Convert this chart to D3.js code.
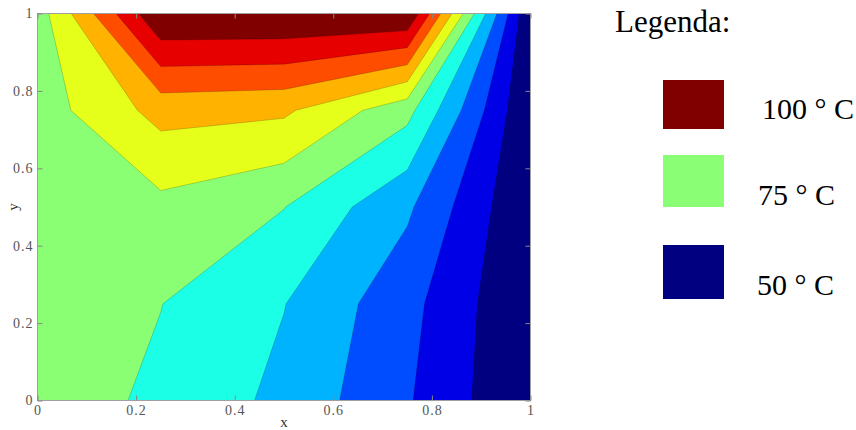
<!DOCTYPE html>
<html>
<head>
<meta charset="utf-8">
<script src="https://cdn.jsdelivr.net/npm/d3@7"></script>
<style>
  body { margin: 0; background: #fff; }
  text { font-family: "Liberation Serif", "Times New Roman", serif; }
</style>
</head>
<body>
<div id="chart"></div>
<script>
// nodal temperatures, one row per y node (top row y = 1)
const xNodes = [0, 0.25, 0.5, 0.75, 1];
const yNodes = [1, 0.75, 0.5, 0.25, 0];
const rowY100 = [75, 100, 100, 100, 50];
const rowY075 = [75, 83.41, 82.63, 74.26, 50];
const rowY050 = [75, 76.01, 72.84, 64.42, 50];
const rowY025 = [75, 72.81, 68.31, 60.57, 50];
const rowY000 = [75, 71.91, 67.01, 59.54, 50];

// contour levels (lower edge of each filled band) and jet colours
const levels = [50, 54.55, 59.09, 63.64, 68.18, 72.73, 77.27, 81.82, 86.36, 90.91, 95.45];
const bandColors = ["#000080", "#0000e6", "#004dff", "#00b3ff", "#1affe6", "#8aff74",
                    "#e6ff1a", "#ffb300", "#ff4d00", "#e60000", "#800000"];

const xTicks = [0, 0.2, 0.4, 0.6, 0.8, 1];
const yTicks = [0, 0.2, 0.4, 0.6, 0.8, 1];

const legendTitle = "Legenda:";
const legendLabels = ["100 ° C", "75 ° C", "50 ° C"];
const legendColors = ["#800000", "#8aff75", "#000080"];

// layout
const W = 856, H = 430;
const plot = {left: 37.5, right: 530.5, top: 13.5, bottom: 400.5};
const legendBoxY = [80, 155, 245], legendBoxH = [49, 52, 54];
const legendTextY = [119, 205, 295], legendTextX = [762, 758, 757];

const svg = d3.select("#chart").append("svg")
    .attr("width", W)
    .attr("height", H);

const x = d3.scaleLinear().domain([0, 1]).range([plot.left, plot.right]);
const y = d3.scaleLinear().domain([0, 1]).range([plot.bottom, plot.top]);

// d3.contours puts sample i at i + 0.5, so map that back onto the nodes
const nx = xNodes.length, ny = yNodes.length;
const gx = d3.scaleLinear().domain([0.5, nx - 0.5]).range([x(xNodes[0]), x(xNodes[nx - 1])]);
const gy = d3.scaleLinear().domain([0.5, ny - 0.5]).range([y(yNodes[0]), y(yNodes[ny - 1])]);

const values = [].concat(rowY100, rowY075, rowY050, rowY025, rowY000);

const contours = d3.contours()
    .size([nx, ny])
    .thresholds(levels)
    (values);

const path = d3.geoPath(d3.geoTransform({
    point: function(px, py) { this.stream.point(gx(px), gy(py)); }
}));

svg.append("clipPath")
    .attr("id", "plotclip")
    .append("rect")
    .attr("x", plot.left)
    .attr("y", plot.top)
    .attr("width", plot.right - plot.left)
    .attr("height", plot.bottom - plot.top);

svg.append("g")
    .attr("clip-path", "url(#plotclip)")
    .selectAll("path")
    .data(contours)
    .join("path")
    .attr("d", path)
    .attr("fill", (d, i) => bandColors[i])
    .attr("stroke", "rgba(0,0,0,0.3)")
    .attr("stroke-width", 0.6);

// frame
svg.append("rect")
    .attr("x", plot.left)
    .attr("y", plot.top)
    .attr("width", plot.right - plot.left)
    .attr("height", plot.bottom - plot.top)
    .attr("fill", "none")
    .attr("stroke", "#a0a0a0")
    .attr("stroke-width", 1);

function styleAxis(g, showText) {
    g.select(".domain").remove();
    g.selectAll(".tick line").attr("stroke", "#888");
    g.selectAll(".tick text")
        .attr("fill", "#555")
        .style("font-size", "14px")
        .style("letter-spacing", "1px")
        .style("font-family", '"Liberation Serif", "Times New Roman", serif');
    if (!showText) g.selectAll(".tick text").remove();
}

svg.append("g")
    .attr("transform", `translate(0,${plot.bottom})`)
    .call(d3.axisBottom(x).tickValues(xTicks).tickFormat(d3.format("~g"))
        .tickSizeInner(-5).tickSizeOuter(0).tickPadding(5))
    .call(g => styleAxis(g, true));

svg.append("g")
    .attr("transform", `translate(0,${plot.top})`)
    .call(d3.axisTop(x).tickValues(xTicks).tickSizeInner(-5).tickSizeOuter(0))
    .call(g => styleAxis(g, false));

svg.append("g")
    .attr("transform", `translate(${plot.left},0)`)
    .call(d3.axisLeft(y).tickValues(yTicks).tickFormat(d3.format("~g"))
        .tickSizeInner(-5).tickSizeOuter(0).tickPadding(4))
    .call(g => styleAxis(g, true));

svg.append("g")
    .attr("transform", `translate(${plot.right},0)`)
    .call(d3.axisRight(y).tickValues(yTicks).tickSizeInner(-5).tickSizeOuter(0))
    .call(g => styleAxis(g, false));

// axis labels
svg.append("text")
    .attr("x", (plot.left + plot.right) / 2)
    .attr("y", 427)
    .attr("text-anchor", "middle")
    .attr("font-size", "15px")
    .attr("fill", "#333")
    .text("x");

svg.append("text")
    .attr("transform", `translate(18,${(plot.top + plot.bottom) / 2}) rotate(-90)`)
    .attr("text-anchor", "middle")
    .attr("font-size", "15px")
    .attr("fill", "#333")
    .text("y");

// legend
svg.append("text")
    .attr("x", 615)
    .attr("y", 32)
    .attr("font-size", "31px")
    .attr("fill", "#000")
    .text(legendTitle);

const legend = svg.append("g");
legend.selectAll("rect")
    .data(legendColors)
    .join("rect")
    .attr("x", 663)
    .attr("y", (d, i) => legendBoxY[i])
    .attr("width", 61)
    .attr("height", (d, i) => legendBoxH[i])
    .attr("fill", d => d);

legend.selectAll("text")
    .data(legendLabels)
    .join("text")
    .attr("x", (d, i) => legendTextX[i])
    .attr("y", (d, i) => legendTextY[i])
    .attr("font-size", "30px")
    .attr("fill", "#000")
    .text(d => d);
</script>
</body>
</html>
